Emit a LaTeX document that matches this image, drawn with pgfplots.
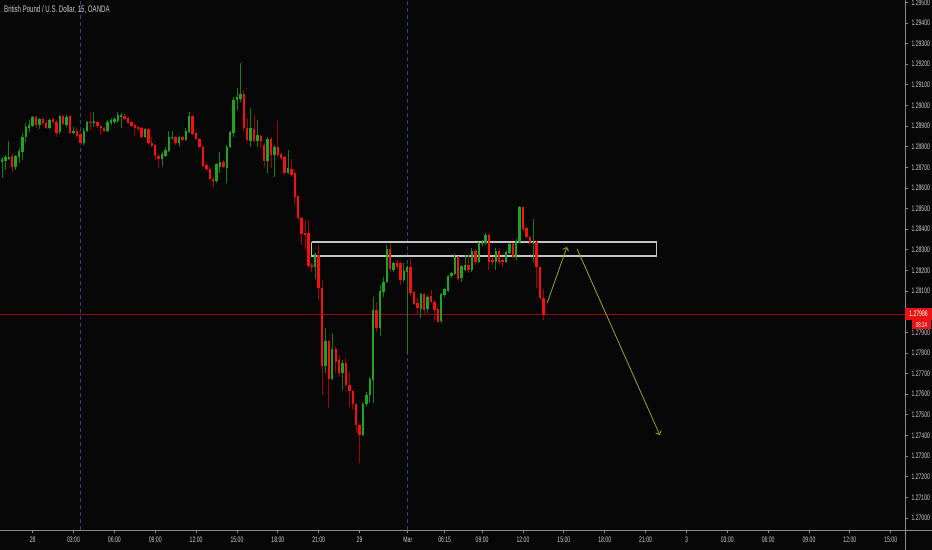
\documentclass[border=0pt]{standalone}
\usepackage{fontspec}
\setmainfont{Liberation Sans}
\newfontfamily\tv[FakeStretch=0.64]{Liberation Sans}
\usepackage{pgfplots}
\usepackage{pgfplotstable}
\pgfplotsset{compat=1.18}
\usetikzlibrary{arrows.meta}

\definecolor{bg}{RGB}{6,6,6}
\definecolor{upbody}{RGB}{30,165,30}
\definecolor{upwick}{RGB}{20,125,20}
\definecolor{dnbody}{RGB}{250,15,15}
\definecolor{dnwick}{RGB}{160,0,0}
\definecolor{axisgray}{RGB}{140,140,140}
\definecolor{labelgray}{RGB}{205,205,205}
\definecolor{sessblue}{RGB}{38,72,130}
\definecolor{priceline}{RGB}{150,10,10}
\definecolor{tagred}{RGB}{232,20,20}
\definecolor{boxgray}{RGB}{195,195,195}
\definecolor{arrowol}{RGB}{160,160,40}

% GBP/USD 15 min candles: index, open, high, low, close
\pgfplotstableread{
i o h l c
0 1.28726 1.28750 1.28649 1.28741
1 1.28731 1.28760 1.28687 1.28750
2 1.28741 1.28828 1.28736 1.28750
4 1.28702 1.28760 1.28687 1.28755
5 1.28750 1.28794 1.28721 1.28779
6 1.28774 1.28867 1.28736 1.28847
7 1.28847 1.28915 1.28823 1.28896
8 1.28891 1.28930 1.28871 1.28905
9 1.28901 1.28949 1.28896 1.28944
11 1.28905 1.28939 1.28886 1.28935
14 1.28891 1.28939 1.28886 1.28930
17 1.28871 1.28954 1.28862 1.28949
19 1.28905 1.28954 1.28896 1.28944
21 1.28867 1.28896 1.28862 1.28876
24 1.28818 1.28891 1.28808 1.28876
25 1.28876 1.28925 1.28871 1.28920
27 1.28915 1.28968 1.28896 1.28925
31 1.28876 1.28930 1.28871 1.28920
32 1.28915 1.28939 1.28905 1.28930
33 1.28920 1.28944 1.28910 1.28935
34 1.28925 1.28968 1.28915 1.28954
35 1.28944 1.28964 1.28891 1.28954
42 1.28847 1.28891 1.28842 1.28886
47 1.28741 1.28774 1.28707 1.28765
48 1.28755 1.28799 1.28750 1.28784
49 1.28779 1.28876 1.28774 1.28847
50 1.28842 1.28876 1.28833 1.28847
52 1.28818 1.28852 1.28799 1.28847
54 1.28833 1.28891 1.28828 1.28876
55 1.28871 1.28968 1.28867 1.28949
63 1.28634 1.28721 1.28624 1.28716
64 1.28702 1.28774 1.28673 1.28726
66 1.28697 1.28808 1.28624 1.28799
67 1.28799 1.28876 1.28794 1.28871
68 1.28867 1.29041 1.28847 1.29027
69 1.29027 1.29085 1.28978 1.29041
70 1.29032 1.29206 1.29017 1.29056
73 1.28828 1.28988 1.28799 1.28891
75 1.28828 1.28930 1.28799 1.28857
78 1.28731 1.28847 1.28673 1.28838
80 1.28760 1.28808 1.28653 1.28799
84 1.28673 1.28784 1.28668 1.28697
92 1.28217 1.28285 1.28159 1.28280
95 1.27737 1.27921 1.27703 1.27858
97 1.27674 1.27897 1.27669 1.27819
100 1.27703 1.27766 1.27621 1.27751
106 1.27402 1.27562 1.27397 1.27553
107 1.27553 1.27611 1.27538 1.27596
108 1.27596 1.27684 1.27558 1.27674
109 1.27669 1.28071 1.27558 1.28008
111 1.27921 1.28130 1.27882 1.28101
112 1.28096 1.28168 1.28072 1.28144
113 1.28144 1.28323 1.28139 1.28304
115 1.28202 1.28241 1.28193 1.28236
118 1.28154 1.28236 1.28144 1.28198
119 1.28193 1.28227 1.27790 1.28217
123 1.28013 1.28091 1.27970 1.28086
125 1.28013 1.28081 1.27994 1.28072
129 1.27955 1.28091 1.27945 1.28086
130 1.28081 1.28115 1.28072 1.28110
131 1.28101 1.28178 1.28096 1.28173
132 1.28173 1.28193 1.28164 1.28188
133 1.28183 1.28280 1.28178 1.28265
135 1.28164 1.28227 1.28144 1.28222
136 1.28202 1.28275 1.28198 1.28227
138 1.28202 1.28309 1.28193 1.28294
140 1.28241 1.28338 1.28236 1.28333
141 1.28328 1.28348 1.28318 1.28338
142 1.28333 1.28382 1.28323 1.28372
145 1.28241 1.28309 1.28202 1.28294
148 1.28241 1.28294 1.28236 1.28289
149 1.28285 1.28333 1.28280 1.28328
151 1.28265 1.28353 1.28251 1.28343
152 1.28338 1.28513 1.28333 1.28508
156 1.28333 1.28450 1.28241 1.28338
}\up

\pgfplotstableread{
i o h l c
3 1.28755 1.28770 1.28678 1.28702
10 1.28944 1.28949 1.28891 1.28905
12 1.28935 1.28944 1.28905 1.28915
13 1.28915 1.28930 1.28886 1.28891
15 1.28935 1.28939 1.28910 1.28920
16 1.28920 1.28930 1.28847 1.28867
18 1.28949 1.28954 1.28905 1.28910
20 1.28949 1.28954 1.28862 1.28867
22 1.28876 1.28891 1.28847 1.28852
23 1.28862 1.28871 1.28808 1.28818
26 1.28920 1.28964 1.28881 1.28915
28 1.28920 1.28925 1.28891 1.28901
29 1.28901 1.28905 1.28857 1.28891
30 1.28891 1.28896 1.28871 1.28876
36 1.28949 1.28959 1.28930 1.28935
37 1.28939 1.28944 1.28910 1.28915
38 1.28920 1.28925 1.28896 1.28901
39 1.28905 1.28910 1.28857 1.28891
40 1.28896 1.28901 1.28876 1.28886
41 1.28891 1.28896 1.28842 1.28847
43 1.28886 1.28891 1.28813 1.28818
44 1.28818 1.28847 1.28799 1.28803
45 1.28808 1.28813 1.28736 1.28755
46 1.28755 1.28765 1.28702 1.28741
51 1.28847 1.28852 1.28808 1.28818
53 1.28847 1.28852 1.28828 1.28833
56 1.28949 1.28954 1.28857 1.28862
57 1.28867 1.28871 1.28833 1.28838
58 1.28838 1.28842 1.28794 1.28799
59 1.28799 1.28808 1.28702 1.28707
60 1.28711 1.28721 1.28682 1.28692
61 1.28692 1.28702 1.28639 1.28644
62 1.28644 1.28653 1.28600 1.28634
65 1.28726 1.28736 1.28697 1.28702
71 1.29056 1.29075 1.28871 1.28891
72 1.28891 1.28939 1.28823 1.28833
74 1.28886 1.28954 1.28823 1.28828
76 1.28852 1.28857 1.28794 1.28828
77 1.28808 1.28818 1.28702 1.28731
79 1.28838 1.28847 1.28697 1.28760
81 1.28799 1.28925 1.28750 1.28760
82 1.28765 1.28770 1.28736 1.28745
83 1.28750 1.28755 1.28663 1.28673
85 1.28692 1.28741 1.28653 1.28663
86 1.28673 1.28687 1.28518 1.28556
87 1.28561 1.28566 1.28445 1.28454
88 1.28454 1.28459 1.28323 1.28377
89 1.28382 1.28445 1.28299 1.28372
90 1.28382 1.28445 1.28212 1.28222
91 1.28227 1.28236 1.28193 1.28217
93 1.28275 1.28324 1.28057 1.28115
94 1.28115 1.28154 1.27596 1.27737
96 1.27858 1.27863 1.27533 1.27674
98 1.27819 1.27834 1.27703 1.27756
99 1.27766 1.27790 1.27684 1.27703
101 1.27751 1.27775 1.27635 1.27645
102 1.27645 1.27708 1.27538 1.27616
103 1.27616 1.27621 1.27524 1.27553
104 1.27553 1.27558 1.27412 1.27451
105 1.27451 1.27456 1.27267 1.27402
110 1.28008 1.28047 1.27902 1.27921
114 1.28304 1.28333 1.28193 1.28207
116 1.28236 1.28251 1.28212 1.28217
117 1.28236 1.28241 1.28130 1.28154
120 1.28217 1.28260 1.28081 1.28091
121 1.28096 1.28101 1.28033 1.28038
122 1.28042 1.28067 1.27984 1.28018
124 1.28086 1.28091 1.27984 1.28008
126 1.28076 1.28105 1.28042 1.28047
127 1.28047 1.28057 1.27960 1.28008
128 1.28013 1.28023 1.27945 1.27950
134 1.28265 1.28270 1.28154 1.28159
137 1.28227 1.28275 1.28188 1.28202
139 1.28294 1.28304 1.28227 1.28241
143 1.28372 1.28382 1.28202 1.28241
144 1.28251 1.28265 1.28227 1.28241
146 1.28294 1.28304 1.28231 1.28241
147 1.28251 1.28260 1.28217 1.28241
150 1.28328 1.28333 1.28260 1.28265
153 1.28508 1.28513 1.28391 1.28401
154 1.28406 1.28411 1.28357 1.28362
155 1.28362 1.28367 1.28323 1.28333
157 1.28338 1.28343 1.28115 1.28217
158 1.28217 1.28222 1.28057 1.28067
159 1.28067 1.28110 1.27960 1.27986
}\down

\begin{document}
\begin{tikzpicture}
\fill[bg] (0,-20bp) rectangle (932bp,530bp);
\begin{axis}[
    at={(0,0)}, anchor=south west,
    width=905bp, height=530bp, scale only axis,
    xmin=-0.5874, xmax=265.19,
    ymin=1.269418, ymax=1.295115,
    axis line style={draw=none},
    no markers,
    scaled ticks=false,
    xtick pos=bottom, ytick pos=right, yticklabel pos=right,
    tick align=outside, major tick length=3bp,
    tick style={draw=axisgray, line width=0.8bp},
    tick label style={font=\tv\fontsize{8bp}{9bp}\selectfont, text=labelgray},
    xtick={9,21,33,45,57,69,81,93,105,119.2,130,141,153,165,177,189,201,213,225,237,249,261},
    xticklabels={28,03:00,06:00,09:00,12:00,15:00,18:00,21:00,29,Mar,06:15,09:00,12:00,15:00,18:00,21:00,3,03:00,06:00,09:00,12:00,15:00},
    ytick={1.270,1.271,1.272,1.273,1.274,1.275,1.276,1.277,1.278,1.279,1.280,1.281,1.282,1.283,1.284,1.285,1.286,1.287,1.288,1.289,1.290,1.291,1.292,1.293,1.294,1.295},
    yticklabels={1.27000,1.27100,1.27200,1.27300,1.27400,1.27500,1.27600,1.27700,1.27800,1.27900,{},1.28100,1.28200,1.28300,1.28400,1.28500,1.28600,1.28700,1.28800,1.28900,1.29000,1.29100,1.29200,1.29300,1.29400,1.29500},
]
% session breaks
\addplot[draw=sessblue, line width=1bp, dash pattern=on 4bp off 3bp] coordinates {(23.2,1.269418) (23.2,1.295115)};
\addplot[draw=sessblue, line width=1bp, dash pattern=on 4bp off 3bp] coordinates {(119.2,1.269418) (119.2,1.295115)};
% last price line
\addplot[draw=priceline, line width=0.9bp] coordinates {(-0.5874,1.27986) (265.19,1.27986)};
% resistance box
\addplot[draw=boxgray, line width=1.2bp] coordinates {(91,1.28338) (192.1,1.28338) (192.1,1.28270) (91,1.28270) (91,1.28338)};

% wicks
\addplot[draw=none, error bars/.cd, y dir=plus, y explicit, error mark=none,
    error bar style={draw=upwick, line width=0.9bp}]
    table[x=i, y=l, y error expr={\thisrow{h}-\thisrow{l}}] {\up};
\addplot[draw=none, error bars/.cd, y dir=plus, y explicit, error mark=none,
    error bar style={draw=dnwick, line width=0.9bp}]
    table[x=i, y=l, y error expr={\thisrow{h}-\thisrow{l}}] {\down};
% bodies
\addplot[draw=none, error bars/.cd, y dir=plus, y explicit, error mark=none,
    error bar style={draw=upbody, line width=2.4bp}]
    table[x=i, y=o, y error expr={\thisrow{c}-\thisrow{o}}] {\up};
\addplot[draw=none, error bars/.cd, y dir=plus, y explicit, error mark=none,
    error bar style={draw=dnbody, line width=2.4bp}]
    table[x=i, y=c, y error expr={\thisrow{o}-\thisrow{c}}] {\down};

% projected path
\addplot[draw=arrowol, line width=0.8bp, -{Straight Barb[length=3bp]}] coordinates {(160.1,1.28042) (165.9,1.28314)};
\addplot[draw=arrowol, line width=0.8bp, -{Straight Barb[length=3bp]}] coordinates {(168.9,1.28304) (193.2,1.27402)};
\end{axis}
\draw[axisgray, line width=0.8bp] (905bp,-20bp) -- (905bp,530bp);
\draw[axisgray, line width=0.8bp] (0,0) -- (932bp,0);
\fill[tagred] (905bp,210bp) rectangle (932bp,222bp);
\node[text=white, font=\tv\fontsize{8bp}{9bp}\selectfont, inner sep=0pt] at (918.5bp,216bp) {1.27986};
\fill[tagred] (912bp,201bp) rectangle (931bp,209.5bp);
\node[text=white, font=\tv\fontsize{7bp}{8bp}\selectfont, inner sep=0pt] at (921.5bp,205.3bp) {08:24};
\node[anchor=west, text=labelgray, font=\tv\fontsize{9.5bp}{11bp}\selectfont, inner sep=0pt] at (4bp,520bp) {British Pound / U.S. Dollar, 15, OANDA};
\pgfresetboundingbox
\path[use as bounding box] (0,-20bp) rectangle (932bp,530bp);
\end{tikzpicture}
\end{document}
